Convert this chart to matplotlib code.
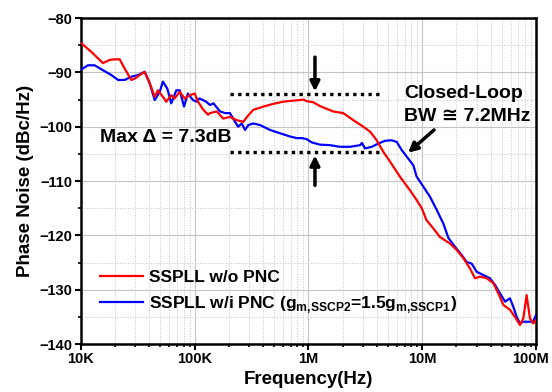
import matplotlib
matplotlib.use("Agg")
import matplotlib.pyplot as plt
from matplotlib.ticker import FixedLocator, LogLocator, MultipleLocator, NullFormatter
from matplotlib.transforms import ScaledTranslation

plt.rcParams['font.family'] = ['Liberation Sans', 'DejaVu Sans']
plt.rcParams['font.weight'] = 'bold'
plt.rcParams['mathtext.fontset'] = 'custom'
plt.rcParams['mathtext.rm'] = 'Liberation Sans:bold'
plt.rcParams['mathtext.bf'] = 'Liberation Sans:bold'

# SSPLL w/o PNC (red)
f_red = [10e3, 12.3e3, 15.6e3, 17.9e3, 19.8e3, 21.9e3, 24.2e3, 27.7e3, 30e3, 32.8e3,
         36.3e3, 40.2e3, 44.5e3, 47.5e3, 52.5e3, 56.2e3, 62.2e3, 66.6e3, 73.8e3, 81.6e3,
         90.2e3, 100e3, 107e3, 118e3, 131e3, 136e3, 156e3, 178e3, 204e3, 234e3,
         267e3, 296e3, 327e3, 401e3, 490e3, 600e3, 735e3, 842e3, 900e3, 964e3,
         1.1e6, 1.26e6, 1.65e6, 2.02e6, 2.48e6, 3.03e6, 3.47e6, 3.98e6, 4.54e6, 5.2e6,
         6.37e6, 7.8e6, 8.8e6, 9.9e6, 10.9e6, 12.5e6, 14.3e6, 17.5e6, 20.1e6, 23e6,
         26.3e6, 29.1e6, 32.2e6, 36.9e6, 42.2e6, 46.7e6, 51.6e6, 59e6, 65.3e6, 72.3e6,
         77.3e6, 82.7e6, 88.5e6, 94.6e6, 100e6]
pn_red = [-84.6, -86.2, -88.3, -87.7, -87.6, -87.6, -89.3, -91.4, -91.1, -90.5,
          -89.9, -92.0, -94.5, -93.3, -94.5, -95.4, -94.2, -94.8, -93.6, -94.8,
          -94.2, -93.9, -95.4, -96.8, -97.8, -97.5, -97.2, -98.5, -98.2, -98.8,
          -99.1, -97.9, -96.9, -96.3, -95.8, -95.4, -95.2, -95.1, -95.0, -95.3,
          -95.5, -96.2, -97.2, -97.5, -98.8, -100.0, -100.9, -102.5, -104.6, -106.4,
          -109.2, -111.7, -113.3, -115.0, -117.2, -118.7, -120.3, -121.5, -122.7, -124.2,
          -126.1, -127.9, -127.6, -127.9, -128.8, -130.7, -132.8, -133.7, -135.0, -136.5,
          -135.3, -131.0, -135.3, -136.2, -135.6]

# SSPLL w/i PNC (blue)
f_blue = [10e3, 11.5e3, 13.2e3, 15.6e3, 18.5e3, 21.2e3, 24.2e3, 27.7e3, 31.7e3, 36.3e3,
          40.2e3, 44.5e3, 49.2e3, 52.5e3, 57.4e3, 62.2e3, 68.9e3, 73.8e3, 80.5e3, 87e3,
          96.6e3, 104e3, 110e3, 118e3, 126e3, 136e3, 146e3, 167e3, 185e3, 204e3,
          226e3, 241e3, 259e3, 277e3, 296e3, 327e3, 375e3, 459e3, 561e3, 687e3,
          787e3, 880e3, 964e3, 1.07e6, 1.26e6, 1.55e6, 1.89e6, 2.32e6, 2.84e6, 2.95e6,
          3.14e6, 3.6e6, 4.11e6, 4.7e6, 5.38e6, 5.96e6, 6.6e6, 7.3e6, 8.35e6, 8.93e6,
          10.2e6, 11.7e6, 13.4e6, 15.3e6, 17e6, 19.4e6, 22.2e6, 24.6e6, 27.2e6, 30.1e6,
          34.4e6, 39.4e6, 43.6e6, 48.3e6, 53.5e6, 59e6, 63.1e6, 67.6e6, 72.3e6, 77e6,
          85.7e6, 94e6, 100e6]
pn_blue = [-89.5, -88.7, -88.7, -89.6, -90.5, -91.4, -91.4, -90.8, -90.5, -89.9,
           -92.0, -95.1, -93.6, -91.7, -93.0, -95.7, -93.3, -93.3, -96.3, -93.9,
           -95.1, -95.4, -94.8, -95.1, -95.4, -96.0, -95.7, -97.2, -97.5, -97.5,
           -99.1, -100.0, -99.4, -100.6, -99.7, -99.4, -99.7, -100.6, -101.2, -101.8,
           -102.1, -102.1, -102.3, -102.9, -103.3, -103.4, -103.7, -103.7, -103.4, -103.0,
           -104.0, -103.7, -103.1, -102.6, -102.5, -102.8, -104.3, -105.5, -107.1, -109.2,
           -111.0, -112.9, -115.3, -117.8, -120.5, -122.1, -123.6, -124.9, -125.2, -126.7,
           -127.3, -127.9, -129.1, -130.7, -132.2, -131.6, -133.1, -135.0, -136.2, -135.9,
           -135.9, -135.9, -134.7]

x_ticks = [1e4, 1e5, 1e6, 1e7, 1e8]
x_labels = ['10K', '100K', '1M', '10M', '100M']
y_ticks = [-140, -130, -120, -110, -100, -90, -80]

fig = plt.figure(figsize=(5.52, 3.92), dpi=100)
ax = fig.add_axes([0.1467, 0.1224, 0.8243, 0.8316])

ax.semilogx(f_red, pn_red, color='#ff0000', lw=1.6, label='SSPLL w/o PNC', zorder=4)
ax.semilogx(f_blue, pn_blue, color='#0000ff', lw=1.6,
            label=r'SSPLL w/i PNC (g$_{\mathrm{m{,}SSCP2}}$=1.5g$_{\mathrm{m{,}SSCP1}}$)', zorder=3)

ax.set_xlim(1e4, 1e8)
ax.set_ylim(-140, -80)
ax.xaxis.set_major_locator(FixedLocator(x_ticks))
ax.set_xticklabels(x_labels)
ax.xaxis.set_minor_locator(LogLocator(base=10, subs=range(2, 10)))
ax.xaxis.set_minor_formatter(NullFormatter())
ax.set_yticks(y_ticks)
ax.yaxis.set_minor_locator(MultipleLocator(5))

ax.grid(True, which='major', color='#c4c4c4', lw=0.8, ls='-')
ax.grid(True, which='minor', color='#c4c4c4', lw=0.7, ls=':')
ax.set_axisbelow(True)

for s in ax.spines.values():
    s.set_linewidth(1.8)
ax.tick_params(which='major', direction='out', length=4, width=1.5, labelsize=10.5, pad=2)
ax.tick_params(which='minor', direction='out', length=2.5, width=1.2)
for lab in ax.get_xticklabels() + ax.get_yticklabels():
    lab.set_fontweight('bold')

# keep "100M" inside the canvas
last = ax.get_xticklabels()[-1]
last.set_transform(last.get_transform() + ScaledTranslation(-4 / 72, 0, fig.dpi_scale_trans))

ax.set_xlabel('Frequency(Hz)', fontsize=13.5, fontweight='bold', labelpad=3)
ax.set_ylabel('Phase Noise (dBc/Hz)', fontsize=13.5, fontweight='bold', labelpad=4)

# dotted reference lines
ax.plot([2.04e5, 4.5e6], [-94.0, -94.0], color='k', lw=2.4, ls=(0, (1, 1.3)), zorder=5)
ax.plot([2.04e5, 4.5e6], [-104.7, -104.7], color='k', lw=2.4, ls=(0, (1, 1.3)), zorder=5)

arrow = dict(arrowstyle='-|>', lw=2.5, color='k', mutation_scale=14, shrinkA=0, shrinkB=0)
ax.annotate('', xy=(1.14e6, -93.5), xytext=(1.14e6, -87.2), arrowprops=arrow)
ax.annotate('', xy=(1.14e6, -105.3), xytext=(1.14e6, -110.8), arrowprops=arrow)
ax.annotate('', xy=(7.5e6, -104.8), xytext=(12.7e6, -100.6), arrowprops=arrow)

ax.text(1.47e4, -101.9, 'Max \u0394 = 7.3dB', fontsize=14, fontweight='bold', va='center', ha='left')
ax.text(6.9e6, -93.8, 'Closed-Loop', fontsize=14, fontweight='bold', va='center', ha='left')
ax.text(6.9e6, -98.2, 'BW \u2245 7.2MHz', fontsize=14, fontweight='bold', va='center', ha='left')

ax.legend(loc='center left', bbox_to_anchor=(0.0418, 0.158), frameon=False,
          handlelength=2.5, handletextpad=0.35, labelspacing=0.55,
          borderpad=0, borderaxespad=0, prop={'weight': 'bold', 'size': 12.5})

fig.savefig('out.png', dpi=100)
